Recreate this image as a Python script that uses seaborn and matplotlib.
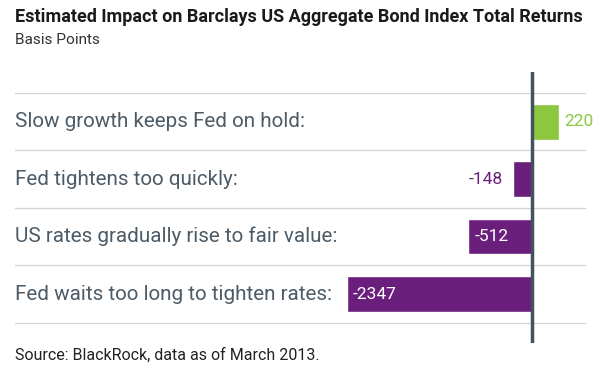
import numpy as np
import pandas as pd
import matplotlib
matplotlib.use("Agg")
import matplotlib.pyplot as plt
import seaborn as sns

# Data
scenarios = [
    "Slow growth keeps Fed on hold:",
    "Fed tightens too quickly:",
    "US rates gradually rise to fair value:",
    "Fed waits too long to tighten rates:",
]
impact_bp = [220, -148, -512, -2347]

title = "Estimated Impact on Barclays US Aggregate Bond Index Total Returns"
subtitle = "Basis Points"
source = "Source: BlackRock, data as of March 2013."

green = "#8dc63f"
purple = "#6b1f7c"
label_grey = "#4d5b66"

df = pd.DataFrame({"scenario": scenarios, "bp": impact_bp})
bar_colors = [green if v > 0 else purple for v in impact_bp]

sns.set_style("white")
plt.rcParams["font.family"] = ["Roboto", "DejaVu Sans"]

fig = plt.figure(figsize=(6, 3.76), dpi=100)
ax = fig.add_axes([0.025, 0.0878, 0.9517, 0.7207])

sns.barplot(data=df, y="scenario", x="bp", hue="scenario", palette=bar_colors,
            orient="h", width=0.62, legend=False, saturation=1, ax=ax)

# the original compresses the long negative bar; mimic with a piecewise scale
k = 0.5117
def fwd(x):
    x = np.asarray(x, dtype=float)
    return np.where(x < -600, -600 + (x + 600) * k, x)
def inv(y):
    y = np.asarray(y, dtype=float)
    return np.where(y < -600, -600 + (y + 600) / k, y)
ax.set_xscale("function", functions=(fwd, inv))
ax.set_xlim(float(inv(-4184)), 441)
ax.set_ylim(3.85, -0.865)

for b in np.arange(-0.5, len(scenarios)):
    ax.axhline(b, color="#cfd4d6", lw=0.9, zorder=0)
ax.axvline(0, color="#44525c", lw=2.5, zorder=3)

for s in ax.spines.values():
    s.set_visible(False)
ax.set_xticks([])
ax.set_yticks([])
ax.set_xlabel("")
ax.set_ylabel("")

ytr = ax.get_yaxis_transform()
for i, (name, v) in enumerate(zip(scenarios, impact_bp)):
    ax.text(0, i, name, transform=ytr, ha="left", va="center",
            fontsize=14.9, color=label_grey)
    if v > 0:
        ax.annotate(str(v), (v, i), xytext=(6, 0), textcoords="offset pixels",
                    ha="left", va="center", fontsize=12.5, color=green)
    elif v > -300:
        ax.annotate(str(v), (v, i), xytext=(-10, 0), textcoords="offset pixels",
                    ha="right", va="center", fontsize=12.5, color=purple)
    else:
        ax.annotate(str(v), (v, i), xytext=(6, 0), textcoords="offset pixels",
                    ha="left", va="center", fontsize=12.5, color="white")

fig.text(0.025, 0.955, title, fontsize=13.0, fontweight="bold", color="#1a1a1a",
         ha="left", va="center")
fig.text(0.025, 0.893, subtitle, fontsize=11.1, color="#333333",
         ha="left", va="center")
fig.text(0.025, 0.055, source, fontsize=11.5, color="#222222",
         ha="left", va="center")

fig.savefig("out.png", dpi=100)
